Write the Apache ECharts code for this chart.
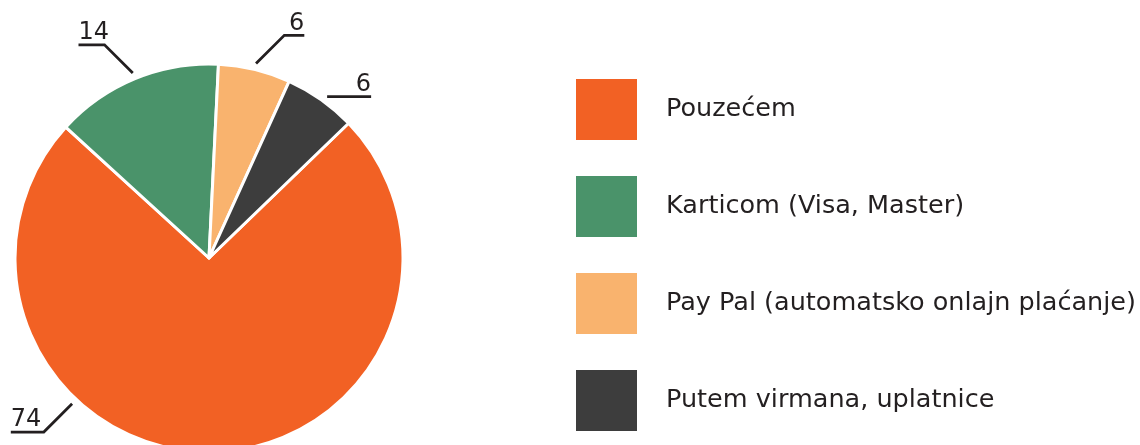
<!DOCTYPE html>
<html><head><meta charset="utf-8">
<script src="https://cdn.jsdelivr.net/npm/echarts@6/dist/echarts.min.js"></script>
<style>html,body{margin:0;padding:0;background:#fff}#c{width:1140px;height:445px}</style>
</head><body><div id="c"></div>
<script>
// ---- data ----
const categories = ['Pouzećem', 'Karticom (Visa, Master)', 'Pay Pal (automatsko onlajn plaćanje)', 'Putem virmana, uplatnice'];
const values = [74, 14, 6, 6];
const colors = ['#F26124', '#4A936A', '#F9B36E', '#3D3D3D'];

// ---- layout / style ----
const CX = 209, CY = 258, R = 194;
const START = 44;
const GAP = 6;
// per-slice label guide styling: anchor angle shift (deg), diagonal length, horizontal length
const guideShift = [44, 0, 0, 1];
const guideDiag = [40, 40, 40, 0];
const guideHoriz = [33, 26, 20, 44];

const total = values.reduce((a, b) => a + b, 0);
function midAngle(i) {
  let before = 0;
  for (let k = 0; k < i; k++) before += values[k];
  return (90 - START) + (before + values[i] / 2) / total * 360;
}

const chart = echarts.init(document.getElementById('c'), null, {renderer: 'canvas'});
chart.setOption({
  animation: false,
  legend: {
    orient: 'vertical', left: 576, top: 79, padding: 0,
    itemWidth: 61, itemHeight: 61, itemGap: 36,
    icon: 'rect', selectedMode: false,
    data: categories,
    itemStyle: {borderWidth: 0},
    textStyle: {fontFamily: 'DejaVu Sans', fontSize: 25.5, color: '#231F20', padding: [0, 0, 0, 24]}
  },
  series: [{
    type: 'pie',
    center: [CX, CY], radius: R,
    startAngle: START, clockwise: true,
    avoidLabelOverlap: false,
    data: categories.map((n, i) => ({name: n, value: values[i], itemStyle: {color: colors[i]}})),
    itemStyle: {borderColor: '#ffffff', borderWidth: 3},
    label: {show: true, position: 'outside', formatter: '{c}', fontFamily: 'DejaVu Sans', fontSize: 24, color: '#231F20'},
    labelLine: {show: true, length: 20, length2: 20, smooth: false, lineStyle: {color: '#231F20', width: 2.8}},
    labelLayout: function (p) {
      const i = p.dataIndex;
      const a = (midAngle(i) + guideShift[i]) * Math.PI / 180;
      const s = Math.sin(a), c = Math.cos(a);
      const r0 = R + GAP;
      const p0 = [CX + r0 * s, CY - r0 * c];
      const hx = s >= 0 ? 1 : -1, vy = c >= 0 ? -1 : 1;
      const d = guideDiag[i] / Math.SQRT2;
      const p1 = [p0[0] + hx * d, p0[1] + vy * d];
      const p2 = [p1[0] + hx * guideHoriz[i], p1[1]];
      return {x: p2[0], y: p2[1] - 12, align: hx > 0 ? 'right' : 'left', verticalAlign: 'middle', labelLinePoints: [p0, p1, p2]};
    },
    emphasis: {disabled: true}
  }]
});
</script></body></html>
